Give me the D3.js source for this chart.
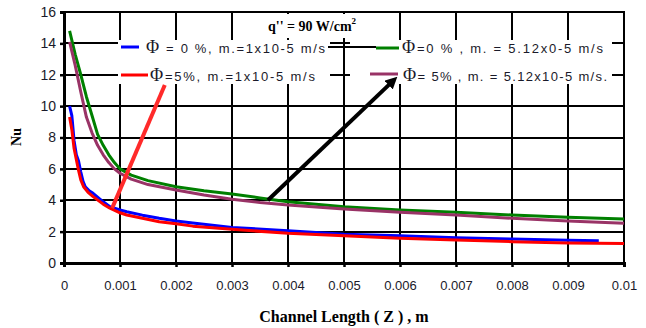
<!DOCTYPE html>
<html>
<head>
<meta charset="utf-8">
<script src="https://cdn.jsdelivr.net/npm/d3@7"></script>
<style>
  body { margin: 0; background: #fff; }
  svg { display: block; }
</style>
</head>
<body>
<svg id="chart" width="646" height="328" viewBox="0 0 646 328"></svg>
<script>
// --- Data ---
const xTicks = [0, 0.001, 0.002, 0.003, 0.004, 0.005, 0.006, 0.007, 0.008, 0.009, 0.01];
const xTickLabels = ["0", "0.001", "0.002", "0.003", "0.004", "0.005", "0.006", "0.007", "0.008", "0.009", "0.01"];
const yTicks = [0, 2, 4, 6, 8, 10, 12, 14, 16];

// Phi = 0 %, m = 1x10-5 m/s (blue)
const blueZ  = [0.0001, 0.00014, 0.00018, 0.00022, 0.00026, 0.0003, 0.00034, 0.00038, 0.00045, 0.00052, 0.0007, 0.00082, 0.001, 0.00112, 0.0014, 0.0017, 0.002, 0.0023, 0.003, 0.004, 0.005, 0.006, 0.007, 0.008, 0.009, 0.00955];
const blueNu = [10.0, 9.4, 7.8, 6.9, 6.5, 5.8, 5.2, 4.86, 4.6, 4.44, 3.9, 3.59, 3.38, 3.27, 3.05, 2.85, 2.68, 2.55, 2.27, 2.06, 1.83, 1.74, 1.61, 1.53, 1.45, 1.42];

// Phi = 5 %, m = 1x10-5 m/s (red)
const redZ  = [0.0001, 0.00014, 0.00018, 0.00022, 0.00026, 0.0003, 0.00035, 0.00043, 0.00052, 0.0007, 0.00082, 0.001, 0.00112, 0.0014, 0.0017, 0.002, 0.0023, 0.003, 0.004, 0.005, 0.006, 0.007, 0.008, 0.009, 0.01];
const redNu = [9.3, 8.5, 7.3, 6.6, 5.9, 5.3, 4.86, 4.5, 4.23, 3.75, 3.49, 3.2, 3.06, 2.85, 2.63, 2.5, 2.35, 2.15, 1.89, 1.74, 1.57, 1.47, 1.36, 1.27, 1.25];

// Phi = 0 %, m = 5.12x10-5 m/s (green)
const greenZ  = [0.0001, 0.0002, 0.0003, 0.0004, 0.0005, 0.0006, 0.0007, 0.0008, 0.0009, 0.001, 0.0012, 0.0015, 0.002, 0.0025, 0.003, 0.0035, 0.004, 0.0045, 0.005, 0.006, 0.007, 0.008, 0.009, 0.01];
const greenNu = [14.8, 13.3, 12.0, 10.6, 9.4, 8.2, 7.5, 6.9, 6.4, 6.0, 5.6, 5.25, 4.86, 4.6, 4.4, 4.15, 3.91, 3.75, 3.59, 3.38, 3.23, 3.06, 2.91, 2.80];

// Phi = 5 %, m = 5.12x10-5 m/s (purple)
const purpleZ  = [0.0001, 0.0002, 0.0003, 0.0004, 0.0005, 0.0006, 0.0007, 0.0008, 0.0009, 0.001, 0.0012, 0.0015, 0.002, 0.0025, 0.003, 0.0035, 0.004, 0.0045, 0.005, 0.006, 0.007, 0.008, 0.009, 0.01];
const purpleNu = [14.1, 12.6, 10.9, 9.3, 8.3, 7.5, 6.9, 6.4, 6.0, 5.72, 5.35, 5.0, 4.65, 4.33, 4.06, 3.86, 3.70, 3.57, 3.44, 3.23, 3.06, 2.85, 2.68, 2.53];

const seriesNames = ["blue", "red", "green", "purple"];

// annotation arrows, in data units
const redPointer   = [[0.00086, 3.5], [0.0018, 11.35]];
const blackPointer = [[0.00364, 4.0], [0.00589, 11.66]];

// --- Layout ---
const svg = d3.select("#chart");
const margin = { left: 64, right: 22, top: 12, bottom: 65 };
const width = 646, height = 328;

const x = d3.scaleLinear().domain([0, 0.01]).range([margin.left, width - margin.right]);
const y = d3.scaleLinear().domain([0, 16]).range([height - margin.bottom, margin.top]);

const colors = { blue: "#0000ff", red: "#ff0000", green: "#008000", purple: "#993366" };
const series = {
  blue:   blueZ.map((z, i) => [z, blueNu[i]]),
  red:    redZ.map((z, i) => [z, redNu[i]]),
  green:  greenZ.map((z, i) => [z, greenNu[i]]),
  purple: purpleZ.map((z, i) => [z, purpleNu[i]])
};

// --- Grid (one crisp path) ---
const r = v => Math.round(v);
let gridD = "";
xTicks.slice(1).forEach(t => { gridD += `M${r(x(t))},${r(y(16))}V${r(y(0))}`; });
yTicks.slice(1).forEach(t => { gridD += `M${r(x(0))},${r(y(t))}H${r(x(0.01)) + 1}`; });
svg.append("path").attr("d", gridD)
  .attr("fill", "none").attr("stroke", "#000").attr("stroke-width", 2)
  .attr("shape-rendering", "crispEdges");

// white patches behind title and legend (the grid breaks there)
svg.append("rect").attr("x", 240).attr("y", 14).attr("width", 130).attr("height", 24).attr("fill", "#fff");
svg.append("rect").attr("x", 118).attr("y", 40).attr("width", 212).attr("height", 44).attr("fill", "#fff");
svg.append("rect").attr("x", 350).attr("y", 40).attr("width", 262).attr("height", 44).attr("fill", "#fff");
svg.append("path").attr("d", "M328,47H376").attr("stroke", "#000").attr("stroke-width", 2)
  .attr("shape-rendering", "crispEdges");

// --- Axes ---
const xAxis = d3.axisBottom(x).tickValues(xTicks).tickFormat((d, i) => xTickLabels[i]).tickSize(4).tickPadding(14);
const yAxis = d3.axisLeft(y).tickValues(yTicks).tickSize(4).tickPadding(4);

const gx = svg.append("g").attr("transform", `translate(0,${y(0)})`).call(xAxis);
const gy = svg.append("g").attr("transform", `translate(${x(0)},0)`).call(yAxis);
[gx, gy].forEach(g => {
  g.select(".domain").attr("stroke", "#000").attr("stroke-width", 3);
  g.selectAll(".tick line").attr("stroke", "#000").attr("stroke-width", 2.5);
  g.selectAll("text").attr("font-family", "Liberation Sans, Arial, sans-serif")
    .attr("font-size", 13).attr("fill", "#1a1a2a");
});
gy.selectAll("text").attr("font-size", 14);

// --- Lines ---
const line = d3.line().x(d => x(d[0])).y(d => y(d[1]));
seriesNames.forEach(name => {
  svg.append("path")
    .datum(series[name])
    .attr("d", line)
    .attr("fill", "none")
    .attr("stroke", colors[name])
    .attr("stroke-width", 3)
    .attr("stroke-linejoin", "round");
});

// --- Annotation pointers ---
const defs = svg.append("defs");
defs.append("marker")
  .attr("id", "arrowhead")
  .attr("viewBox", "0 -5 10 10")
  .attr("refX", 6).attr("refY", 0)
  .attr("markerWidth", 3).attr("markerHeight", 3)
  .attr("orient", "auto")
  .append("path").attr("d", "M0,-5L10,0L0,5").attr("fill", "#000");

svg.append("path").datum(redPointer).attr("d", line)
  .attr("stroke", "#ff2a2a").attr("stroke-width", 4).attr("fill", "none");
svg.append("path").datum(blackPointer).attr("d", line)
  .attr("stroke", "#000").attr("stroke-width", 4).attr("fill", "none")
  .attr("marker-end", "url(#arrowhead)");

// --- Title ---
const title = svg.append("text")
  .attr("x", 268).attr("y", 31)
  .attr("font-family", "Liberation Serif, Times New Roman, serif")
  .attr("font-weight", "bold").attr("font-size", 14).attr("fill", "#000");
title.append("tspan").text("q'' = 90 W/cm");
title.append("tspan").attr("font-size", 9).attr("dy", -7).text("2");

// --- Legend ---
const legendItems = [
  { key: "blue",   x1: 121, x2: 139, ly: 47, tx: 146, ty: 53, rest: " = 0 %, m.=1x10-5 m/s", w: 179 },
  { key: "red",    x1: 121, x2: 148, ly: 75, tx: 150, ty: 81, rest: "=5%, m.=1x10-5 m/s", w: 165 },
  { key: "green",  x1: 376, x2: 399, ly: 48, tx: 402, ty: 53, rest: "=0 % , m. = 5.12x0-5 m/s", w: 201 },
  { key: "purple", x1: 370, x2: 398, ly: 74, tx: 403, ty: 81, rest: "= 5% , m. = 5.12x10-5 m/s.", w: 204 }
];
const lg = svg.append("g");
legendItems.forEach(d => {
  lg.append("line").attr("x1", d.x1).attr("x2", d.x2).attr("y1", d.ly).attr("y2", d.ly)
    .attr("stroke", colors[d.key]).attr("stroke-width", 3);
  const t = lg.append("text").attr("x", d.tx).attr("y", d.ty)
    .attr("font-family", "Liberation Sans, Arial, sans-serif").attr("font-size", 13).attr("fill", "#1a1a2a")
    .attr("textLength", d.w).attr("lengthAdjust", "spacing");
  t.append("tspan").attr("font-family", "Liberation Serif, Times New Roman, serif").attr("font-size", 18).text("Φ");
  t.append("tspan").text(d.rest);
});

// --- Axis titles ---
svg.append("text")
  .attr("x", 344).attr("y", 322).attr("text-anchor", "middle")
  .attr("font-family", "Liberation Serif, Times New Roman, serif")
  .attr("font-weight", "bold").attr("font-size", 16).attr("fill", "#000")
  .text("Channel Length ( Z ) , m");
svg.append("text")
  .attr("transform", "translate(21,137) rotate(-90)").attr("text-anchor", "middle")
  .attr("font-family", "Liberation Serif, Times New Roman, serif")
  .attr("font-weight", "bold").attr("font-size", 14).attr("fill", "#000")
  .text("Nu");
</script>
</body>
</html>
